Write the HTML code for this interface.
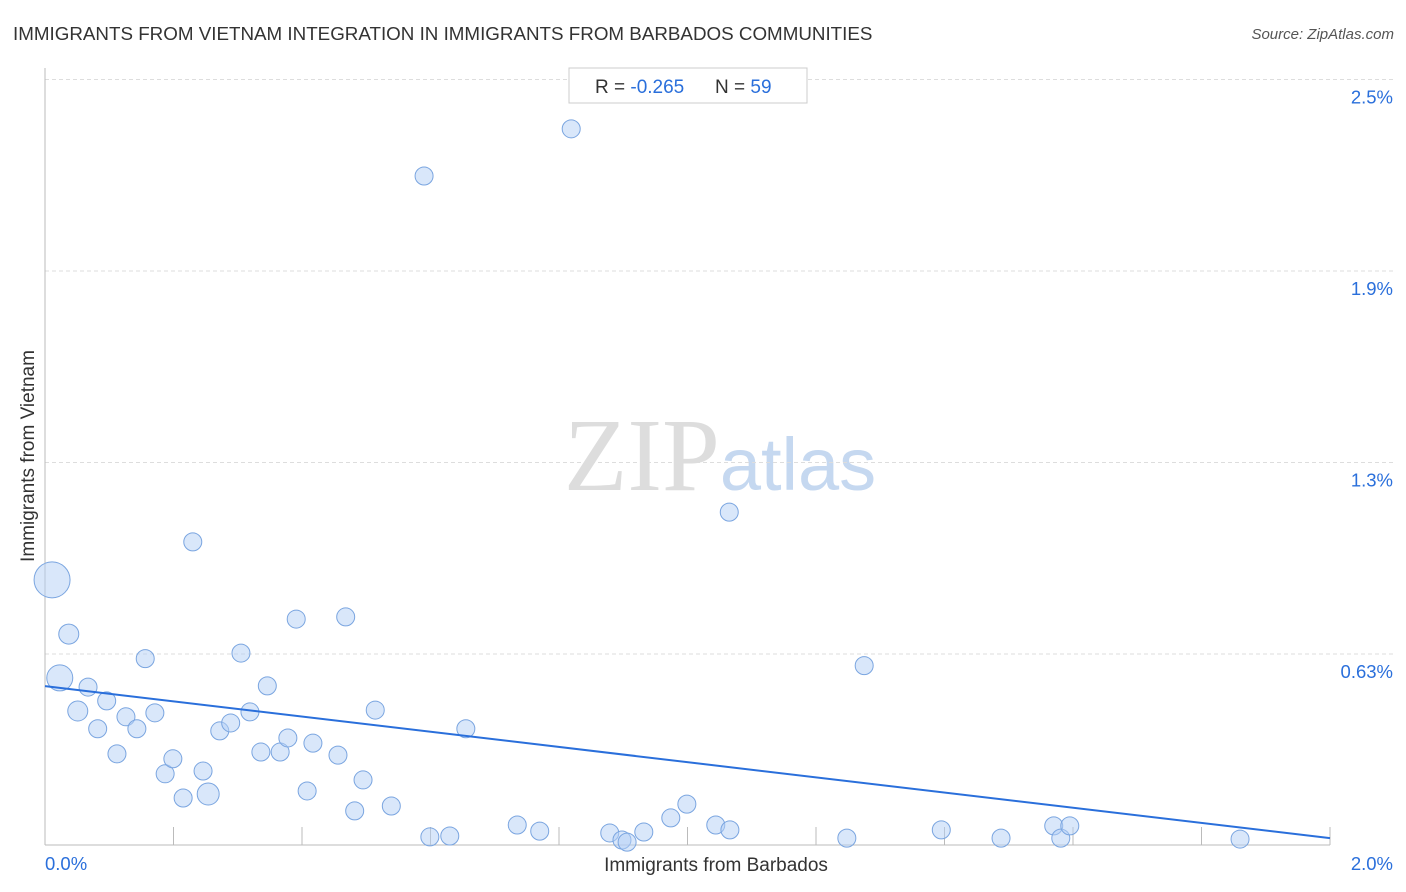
<!DOCTYPE html>
<html><head><meta charset="utf-8"><style>
body{margin:0;background:#fff;font-family:"Liberation Sans",sans-serif;}
svg{display:block}
</style></head><body>
<svg id="chart" width="1406" height="892" viewBox="0 0 1406 892">
<text x="13" y="40" font-size="18.8" fill="#333">IMMIGRANTS FROM VIETNAM INTEGRATION IN IMMIGRANTS FROM BARBADOS COMMUNITIES</text>
<text x="1394" y="39" font-size="15" fill="#555" text-anchor="end" font-style="italic">Source: ZipAtlas.com</text>
<text x="720" y="490" font-size="104" text-anchor="middle" fill="#ddd" font-family="Liberation Serif,serif">ZIP<tspan fill="#c5d8f0" font-family="Liberation Sans,sans-serif" font-size="74">atlas</tspan></text>
<g id="grid"></g><g id="axes"></g><g id="marks"></g>
<g>
<rect x="569" y="68" width="238" height="35" fill="#fff" stroke="#ccc"/>
<text x="595" y="93" font-size="19" fill="#333">R = <tspan fill="#2a6fdb">-0.265</tspan></text>
<text x="715" y="93" font-size="19" fill="#333">N = <tspan fill="#2a6fdb">59</tspan></text>
</g>
<text x="716" y="871" font-size="19" text-anchor="middle" fill="#333">Immigrants from Barbados</text>
<text transform="translate(34,456) rotate(-90)" font-size="19" text-anchor="middle" fill="#333">Immigrants from Vietnam</text>
</svg>
<script>
const xs=[0.011,0.037,0.023,0.067,0.051,0.096,0.082,0.126,0.143,0.112,0.156,0.171,0.187,0.199,0.215,0.230,0.246,0.254,0.272,0.289,0.305,0.319,0.336,0.346,0.366,0.378,0.391,0.408,0.417,0.456,0.468,0.482,0.495,0.514,0.539,0.590,0.599,0.630,0.655,0.735,0.770,0.819,0.879,0.898,0.906,0.932,0.974,0.999,1.044,1.065,1.066,1.248,1.275,1.395,1.488,1.570,1.581,1.595,1.860];
const ys=[0.867,0.690,0.547,0.517,0.439,0.472,0.381,0.420,0.381,0.299,0.610,0.433,0.234,0.283,0.155,0.991,0.243,0.168,0.374,0.400,0.628,0.436,0.305,0.521,0.305,0.351,0.739,0.178,0.334,0.295,0.746,0.113,0.214,0.442,0.129,2.185,0.028,0.031,0.381,0.067,0.047,2.339,0.041,0.018,0.011,0.044,0.090,0.135,0.067,1.088,0.051,0.024,0.587,0.051,0.024,0.064,0.024,0.064,0.021];
const sizes=[18,10,13,9,10,9,9,9,9,9,9,9,9,9,9,9,9,11,9,9,9,9,9,9,9,9,9,9,9,9,9,9,9,9,9,9,9,9,9,9,9,9,9,9,9,9,9,9,9,9,9,9,9,9,9,9,9,9,9];
const yTicks=[0.625,1.25,1.875,2.5];
const yTickLabels=["0.63%","1.3%","1.9%","2.5%"];
const xTicks=[0.2,0.4,0.6,0.8,1.0,1.2,1.4,1.6,1.8,2.0];
const trend=[0.52,0.024];
const X=v=>45+v*642.5, Y=v=>845.5-v*306.4;
const NS="http://www.w3.org/2000/svg";
function mk(t,a,p){const e=document.createElementNS(NS,t);for(const k in a)e.setAttribute(k,a[k]);p.appendChild(e);return e;}
const grid=document.getElementById('grid'),axes=document.getElementById('axes'),marks=document.getElementById('marks');
yTicks.forEach((v,i)=>{
 const l=mk('line',{x1:45,x2:1395,y1:Y(v),y2:Y(v),stroke:'#ddd','stroke-dasharray':'4,3'},grid);
 
 
 const t=mk('text',{x:1393,y:Y(v)+24,'font-size':18.5,fill:'#2a6fdb','text-anchor':'end'},axes);
 t.textContent=yTickLabels[i];
 
 
});
const ya=mk('line',{x1:45,x2:45,y1:68,y2:845,stroke:'#bbb'},axes);


const xa=mk('line',{x1:45,x2:1330,y1:845,y2:845,stroke:'#bbb'},axes);


xTicks.forEach(v=>{
 const l=mk('line',{x1:X(v),x2:X(v),y1:827,y2:845,stroke:'#bbb'},axes);
 
 
});
const x0=mk('text',{x:45,y:870,'font-size':18.5,fill:'#2a6fdb'},axes);x0.textContent="0.0%";


const x1=mk('text',{x:1393,y:870,'font-size':18.5,fill:'#2a6fdb','text-anchor':'end'},axes);x1.textContent="2.0%";


xs.forEach((v,i)=>{
 const c=mk('circle',{cx:X(v),cy:Y(ys[i]),r:sizes[i],fill:'rgba(180,208,245,0.5)',stroke:'#7aa5e0','stroke-width':1},marks);
 
 
});
const tl=mk('line',{x1:X(0),y1:Y(trend[0]),x2:X(2.0),y2:Y(trend[1]),stroke:'#2a6fdb','stroke-width':2},marks);


</script>
</body></html>
